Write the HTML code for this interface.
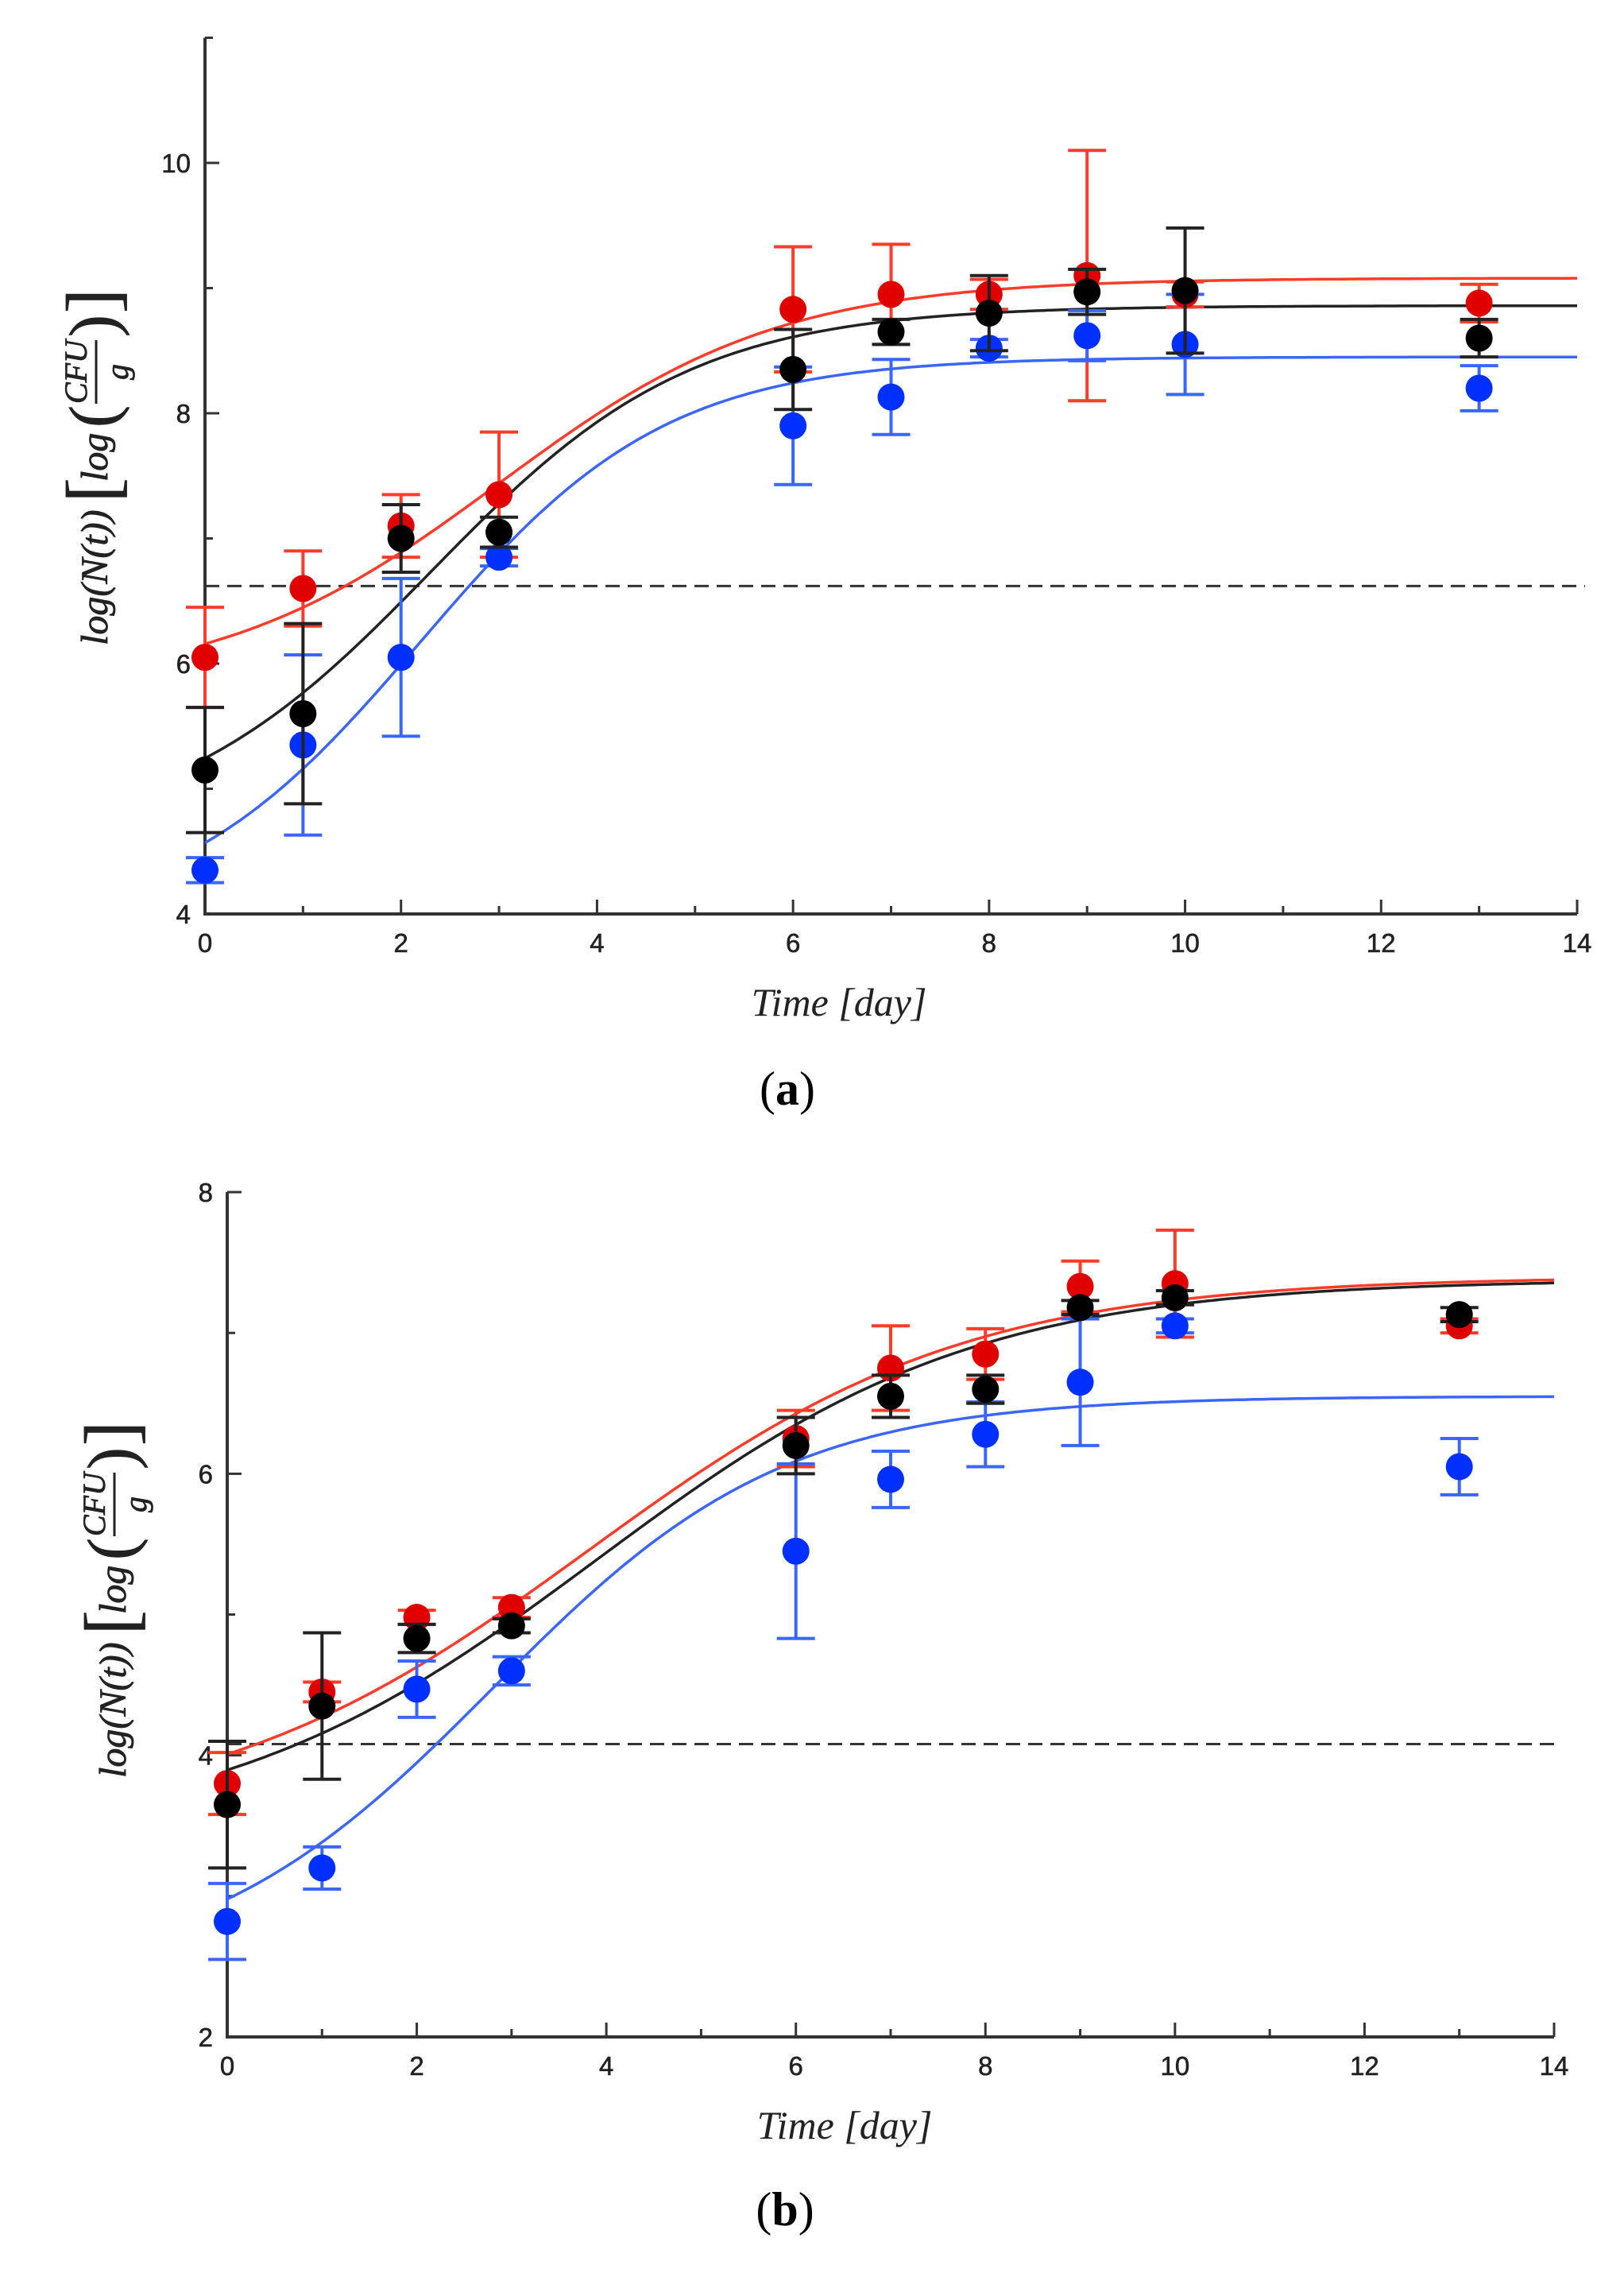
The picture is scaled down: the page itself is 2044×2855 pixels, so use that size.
<!DOCTYPE html>
<html><head><meta charset="utf-8"><style>
html,body{margin:0;padding:0;background:#fff;}
svg{display:block;}
</style></head><body>
<svg id="fig" width="2044" height="2855" viewBox="0 0 2044 2855" xmlns="http://www.w3.org/2000/svg"></svg>
<script>
// ---------- data ----------
const days = [0,1,2,3,6,7,8,9,10,13];
// panel a
const aRed = [6.05,6.6,7.1,7.35,8.83,8.95,8.95,9.1,8.95,8.88];
const aRedErr = [0.4,0.3,0.25,0.5,0.5,0.4,0.12,1.0,0.1,0.15];
const aBlack = [5.15,5.6,7.0,7.05,8.35,8.65,8.8,8.97,8.98,8.6];
const aBlackErr = [0.5,0.72,0.27,0.12,0.32,0.1,0.3,0.18,0.5,0.15];
const aBlue = [4.35,5.35,6.05,6.85,7.9,8.13,8.52,8.62,8.55,8.2];
const aBlueErr = [0.1,0.72,0.63,0.07,0.47,0.3,0.07,0.2,0.4,0.18];
const aRedFit = [5.8,9.08,3.0,0.7];     // [lower, upper, midpoint, rate]
const aBlackFit = [4.6,8.86,2.3,0.75];
const aBlueFit = [3.9,8.45,2.2,0.8];
const aThreshold = [6.62];
// panel b
const bRed = [3.8,4.45,4.98,5.05,6.25,6.75,6.85,7.33,7.35,7.05];
const bRedErr = [0.22,0.07,0.05,0.07,0.2,0.3,0.18,0.18,0.38,0.05];
const bBlack = [3.65,4.35,4.83,4.92,6.2,6.55,6.6,7.18,7.25,7.13];
const bBlackErr = [0.45,0.52,0.1,0.05,0.2,0.15,0.1,0.05,0.05,0.05];
const bBlue = [2.82,3.2,4.47,4.6,5.45,5.96,6.28,6.65,7.05,6.05];
const bBlueErr = [0.27,0.15,0.2,0.1,0.62,0.2,0.23,0.45,0.05,0.2];
const bRedFit = [3.5,7.4,3.8,0.5];
const bBlackFit = [3.4,7.38,3.9,0.5];
const bBlueFit = [2.4,6.55,2.8,0.65];
const bThreshold = [4.08];
const xTicks = [0,2,4,6,8,10,12,14];
const aYTicks = [4,6,8,10];
const bYTicks = [2,4,6,8];

const NS = "http://www.w3.org/2000/svg";
const fig = document.getElementById('fig');
function mk(tag, attrs, parent){
  const e = document.createElementNS(NS, tag);
  for (const k in attrs) e.setAttribute(k, attrs[k]);
  (parent||fig).appendChild(e);
  return e;
}
const COL = {red:{dot:'#e00000',line:'#ff3b2a'}, black:{dot:'#000',line:'#222'}, blue:{dot:'#0030ff',line:'#3a66ff'}};

function panel(cfg){
  const g = mk('g', {});
  
  
  const X = v => cfg.x0 + (v - 0) / 14 * (cfg.x1 - cfg.x0);
  const Y = v => cfg.yb - (v - cfg.ymin) / (cfg.ymax - cfg.ymin) * (cfg.yb - cfg.yt);
  const ax = mk('path', {d:`M${cfg.x0},${Y(cfg.ytop)} V${cfg.yb} H${cfg.x1}`, fill:'none', stroke:'#333', 'stroke-width':4}, g);
  
  
  for (let t=0; t<=14; t++){
    const len = t%2===0 ? 18 : 10;
    mk('line', {x1:X(t), x2:X(t), y1:cfg.yb, y2:cfg.yb-len, stroke:'#333','stroke-width':3}, g);
  }
  for (let v=cfg.ymin; v<=cfg.ytop; v++){
    const major = cfg.yTicks.indexOf(v) >= 0;
    mk('line', {x1:cfg.x0, x2:cfg.x0+(major?18:10), y1:Y(v), y2:Y(v), stroke:'#333','stroke-width':3}, g);
  }
  xTicks.forEach(t => {
    const tx = mk('text', {x:X(t), y:cfg.yb+48, 'text-anchor':'middle', 'font-family':'Liberation Sans, sans-serif', 'font-size':33, fill:'#222', stroke:'#222', 'stroke-width':0.6}, g);
    tx.textContent = t;
    
    
  });
  cfg.yTicks.forEach(v => {
    const tx = mk('text', {x:cfg.x0-18, y:Y(v)+12, 'text-anchor':'end', 'font-family':'Liberation Sans, sans-serif', 'font-size':33, fill:'#222', stroke:'#222', 'stroke-width':0.6}, g);
    tx.textContent = v;
    
    
  });
  const th = mk('line', {x1:cfg.x0, x2:cfg.x1+10, y1:Y(cfg.thr[0]), y2:Y(cfg.thr[0]), stroke:'#333','stroke-width':3,'stroke-dasharray':'18,10'}, g);
  
  
  cfg.series.forEach(s => {
    const [A,B,m,k] = s.fit;
    let d = '';
    for (let i=0; i<=280; i++){
      const t = i/20;
      const v = A + (B-A)/(1+Math.exp(-k*(t-m)));
      d += (i?'L':'M') + X(t).toFixed(1) + ',' + Y(v).toFixed(1);
    }
    const p = mk('path', {d, fill:'none', stroke:COL[s.c].line, 'stroke-width':3.5}, g);
    
    
  });
  cfg.series.forEach(s => {
    s.v.forEach((v,i) => {
      const x = X(days[i]), e = s.e[i];
      const eb = mk('path', {d:`M${x},${Y(v-e)} V${Y(v+e)} M${x-24},${Y(v-e)} H${x+24} M${x-24},${Y(v+e)} H${x+24}`, fill:'none', stroke:COL[s.c].line, 'stroke-width':4}, g);
      
      
    });
    s.v.forEach((v,i) => {
      const c = mk('circle', {cx:X(days[i]), cy:Y(v), r:17, fill:COL[s.c].dot}, g);
      
      
    });
  });
  const lg = mk('g', {transform:`translate(${cfg.labX},${cfg.labY}) rotate(-90)`, 'font-family':'Liberation Serif, serif', 'font-style':'italic', fill:'#222', stroke:'#222', 'stroke-width':0.8}, g);
  
  
  const t1 = mk('text', {x:-212, y:0, 'font-size':48}, lg); t1.textContent = 'log(N(t))';
  const t2 = mk('text', {x:-32, y:12, 'font-size':92, 'font-style':'normal'}, lg); t2.textContent = '[';
  const t3 = mk('text', {x:-6, y:0, 'font-size':48}, lg); t3.textContent = 'log';
  const t4 = mk('text', {x:62, y:10, 'font-size':84, 'font-style':'normal'}, lg); t4.textContent = '(';
  const t5 = mk('text', {x:132, y:-26, 'font-size':40, 'text-anchor':'middle'}, lg); t5.textContent = 'CFU';
  mk('line', {x1:92, x2:172, y1:-14, y2:-14, stroke:'#222','stroke-width':3}, lg);
  const t6 = mk('text', {x:132, y:26, 'font-size':40, 'text-anchor':'middle'}, lg); t6.textContent = 'g';
  const t7 = mk('text', {x:176, y:10, 'font-size':84, 'font-style':'normal'}, lg); t7.textContent = ')';
  const t8 = mk('text', {x:206, y:12, 'font-size':92, 'font-style':'normal'}, lg); t8.textContent = ']';
  const xl = mk('text', {x:cfg.xlX, y:cfg.yb+128, 'text-anchor':'middle', 'font-family':'Liberation Serif, serif', 'font-style':'italic', 'font-size':50, fill:'#222'}, g);
  xl.textContent = 'Time [day]';
  
  
  const cap = mk('text', {x:cfg.capX, y:cfg.capY, 'text-anchor':'middle', 'font-family':'Liberation Serif, serif', 'font-size':60, fill:'#000'}, g);
  cap.innerHTML = '(<tspan font-weight="bold">' + cfg.cap + '</tspan>)';
  
  
}

panel({name:'panel-a', x0:258, x1:1985, yb:1150, yt:205, ymin:4, ymax:10, ytop:11, yTicks:aYTicks, thr:aThreshold,
  series:[{c:'red',v:aRed,e:aRedErr,fit:aRedFit},{c:'blue',v:aBlue,e:aBlueErr,fit:aBlueFit},{c:'black',v:aBlack,e:aBlackErr,fit:aBlackFit}],
  labX:135, labY:600, xlX:1056, capX:991, capY:1390, cap:'a'});
panel({name:'panel-b', x0:286, x1:1956, yb:2563, yt:1500, ymin:2, ymax:8, ytop:8, yTicks:bYTicks, thr:bThreshold,
  series:[{c:'red',v:bRed,e:bRedErr,fit:bRedFit},{c:'blue',v:bBlue,e:bBlueErr,fit:bBlueFit},{c:'black',v:bBlack,e:bBlackErr,fit:bBlackFit}],
  labX:158, labY:2025, xlX:1063, capX:988, capY:2800, cap:'b'});
</script>
</body></html>
